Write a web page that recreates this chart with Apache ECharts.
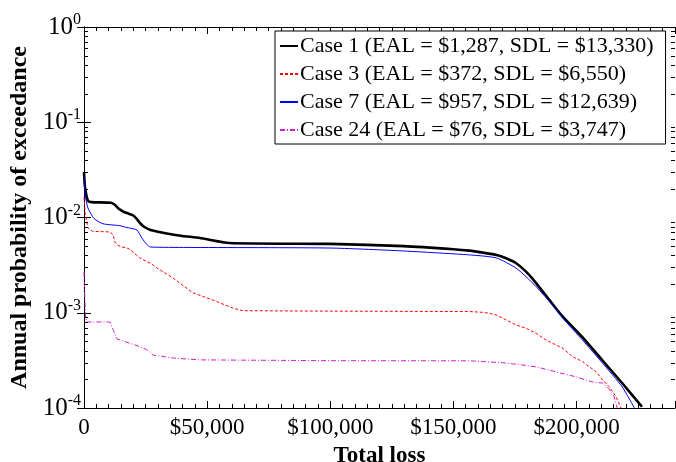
<!DOCTYPE html>
<html>
<head>
<meta charset="utf-8">
<script src="https://cdn.jsdelivr.net/npm/echarts@6/dist/echarts.min.js"></script>
<style>html,body{margin:0;padding:0;background:#fff}#c{width:676px;height:462px}</style>
</head>
<body>
<div id="c"></div>
<script>
// ---------- data ----------
const seriesNames = [
  'Case 1 (EAL = $1,287, SDL = $13,330)',
  'Case 3 (EAL = $372, SDL = $6,550)',
  'Case 7 (EAL = $957, SDL = $12,639)',
  'Case 24 (EAL = $76, SDL = $3,747)'
];
const case1Loss = [0, 400, 1600, 3000, 11000, 12500, 14000, 16000, 18000, 20000, 21500, 23000, 24700, 27000, 30000, 33600, 40000, 47000, 59000, 100000, 129700, 150000, 156500, 161900, 167500, 171400, 175500, 179500, 183600, 189000, 194400, 202300, 210400, 218500, 226600];
const case1Prob = [0.0300, 0.0210, 0.0150, 0.0145, 0.0143, 0.0136, 0.0124, 0.0115, 0.0110, 0.0105, 0.0096, 0.0086, 0.0079, 0.0074, 0.0071, 0.0068, 0.0064, 0.0061, 0.0054, 0.00528, 0.0050, 0.00465, 0.00449, 0.00428, 0.00404, 0.00373, 0.00331, 0.00270, 0.00205, 0.00136, 0.00091, 0.000557, 0.000319, 0.000183, 0.000103];

const case3Loss = [0, 500, 1600, 3500, 10500, 11800, 12600, 13800, 15400, 17400, 18700, 22700, 28000, 29600, 36100, 44200, 52300, 60400, 64500, 100000, 156500, 161900, 164600, 167400, 171400, 175500, 179500, 183600, 187600, 191700, 194400, 198400, 202500, 205200, 207900, 210600, 213300, 216000, 218100];
const case3Prob = [0.0164, 0.0110, 0.0078, 0.00715, 0.00706, 0.0066, 0.0055, 0.0051, 0.0049, 0.0048, 0.0046, 0.00376, 0.00318, 0.00296, 0.00232, 0.00162, 0.00136, 0.00112, 0.00105, 0.00104, 0.00103, 0.00101, 0.000988, 0.000948, 0.000840, 0.000744, 0.000687, 0.000609, 0.000518, 0.000459, 0.000424, 0.000346, 0.000306, 0.000271, 0.000241, 0.000197, 0.000167, 0.000132, 0.000100];

const case7Loss = [0, 500, 1600, 4000, 7700, 14600, 17000, 19000, 21500, 23500, 25500, 27000, 41800, 100000, 127000, 156500, 167500, 175500, 179500, 183600, 189000, 194400, 202400, 210500, 218600, 223500];
const case7Prob = [0.0260, 0.0170, 0.0126, 0.0098, 0.0086, 0.0082, 0.0079, 0.0077, 0.0074, 0.0061, 0.0052, 0.0049, 0.00485, 0.00478, 0.00449, 0.00405, 0.00376, 0.00294, 0.00239, 0.00188, 0.00131, 0.00088, 0.000518, 0.000297, 0.000166, 0.000100];

const case24Loss = [0, 300, 600, 1000, 10500, 12000, 13400, 17400, 22700, 25500, 28000, 36100, 47000, 100000, 156500, 169900, 178000, 183700, 191800, 199900, 206400, 210500, 213300, 215300, 216500];
const case24Prob = [0.00267, 0.0015, 0.00095, 0.00080, 0.00080, 0.00065, 0.00053, 0.00049, 0.00044, 0.00041, 0.00036, 0.000335, 0.00032, 0.000314, 0.000313, 0.000299, 0.000283, 0.000270, 0.000239, 0.000212, 0.000188, 0.000183, 0.000158, 0.000131, 0.000100];

const xTickLabels = [0, 50000, 100000, 150000, 200000];
const yDecades = [1e-4, 1e-3, 1e-2, 1e-1, 1];
const yMinorMult = [2, 3, 4, 5, 6, 7, 8, 9];

// ---------- build ----------
const FONT = "'Liberation Serif','Times New Roman',serif";
const pair = (xs, ys) => xs.map((x, i) => [x, ys[i]]);
const yMinor = [];
yDecades.slice(0, -1).forEach(d => yMinorMult.forEach(m => yMinor.push([0, d * m])));

const XMIN = 0, XMAX = 240000;
const baseX = {
  type: 'value', min: XMIN, max: XMAX, gridIndex: 0,
  splitLine: { show: false },
  axisLine: { show: true, onZero: false, lineStyle: { color: '#000', width: 1 } },
  axisLabel: { show: false }
};
const xAxes = [
  Object.assign({}, baseX, {
    position: 'bottom', interval: 5000,
    axisTick: { show: true, inside: true, length: 4, lineStyle: { color: '#000' } },
    axisLabel: {
      show: true, fontFamily: FONT, fontSize: 23, color: '#000', margin: 8,
      formatter: v => xTickLabels.indexOf(v) < 0 ? '' : (v === 0 ? '0' : '$' + v.toLocaleString('en-US'))
    },
    name: 'Total loss', nameLocation: 'middle', nameGap: 37,
    nameTextStyle: { fontFamily: FONT, fontSize: 23, fontWeight: 'bold', color: '#000' }
  }),
  Object.assign({}, baseX, {
    position: 'bottom', interval: 50000, axisLine: { show: false },
    axisTick: { show: true, inside: true, length: 7, lineStyle: { color: '#000' } }
  }),
  Object.assign({}, baseX, {
    position: 'top', interval: 5000,
    axisTick: { show: true, inside: true, length: 4, lineStyle: { color: '#000' } }
  }),
  Object.assign({}, baseX, {
    position: 'top', interval: 50000, axisLine: { show: false },
    axisTick: { show: true, inside: true, length: 7, lineStyle: { color: '#000' } }
  })
];

const baseY = {
  type: 'log', logBase: 10, min: 1e-4, max: 1, gridIndex: 0,
  splitLine: { show: false },
  axisLine: { show: true, lineStyle: { color: '#000', width: 1 } },
  axisTick: { show: true, inside: true, length: 7, lineStyle: { color: '#000' } }
};
const yAxes = [
  Object.assign({}, baseY, {
    position: 'left',
    axisLabel: {
      show: true, margin: 3, color: '#000',
      formatter: v => '{b|10}{e|' + Math.round(Math.log10(v)) + '}',
      rich: {
        b: { fontFamily: FONT, fontSize: 25, color: '#000' },
        e: { fontFamily: FONT, fontSize: 16, color: '#000', padding: [0, 0, 14, 0] }
      }
    },
    name: 'Annual probability of exceedance', nameLocation: 'middle', nameGap: 50,
    nameTextStyle: { fontFamily: FONT, fontSize: 24, fontWeight: 'bold', color: '#000' }
  }),
  Object.assign({}, baseY, { position: 'right', axisLabel: { show: false } })
];

const lineSeries = (name, data, color, width, type, smooth) => ({
  name, type: 'line', data, xAxisIndex: 0, yAxisIndex: 0,
  symbol: 'none', showSymbol: false, smooth: smooth, silent: true,
  lineStyle: { color, width, type }, itemStyle: { color },
  clip: true, z: 3
});

const option = {
  animation: false,
  backgroundColor: '#fff',
  grid: { left: 84, right: 1, top: 27, bottom: 54, containLabel: false, outerBoundsMode: 'none' },
  xAxis: xAxes,
  yAxis: yAxes,
  legend: {
    data: seriesNames,
    orient: 'vertical', left: 275, top: 31,
    padding: [4, 12, 3, 4], itemGap: 6,
    itemWidth: 18, itemHeight: 2,
    itemStyle: { opacity: 0 },
    borderColor: '#000', borderWidth: 1, backgroundColor: '#fff',
    textStyle: { fontFamily: FONT, fontSize: 22, color: '#000', padding: [0, 0, 0, -3] },
    selectedMode: false, z: 10
  },
  series: [
    lineSeries(seriesNames[0], pair(case1Loss, case1Prob), '#000000', 2.6, 'solid', 0.2),
    lineSeries(seriesNames[1], pair(case3Loss, case3Prob), '#ff0000', 1, [3, 2], false),
    lineSeries(seriesNames[2], pair(case7Loss, case7Prob), '#0000ff', 1, 'solid', 0.2),
    lineSeries(seriesNames[3], pair(case24Loss, case24Prob), '#cc22cc', 1, [5, 2, 1, 2], false),
    {
      type: 'custom', name: 'minorTicks', xAxisIndex: 0, yAxisIndex: 0, silent: true,
      data: yMinor, encode: { x: 0, y: 1 }, clip: false, z: 5,
      renderItem: (params, api) => {
        const p = api.coord([XMIN, api.value(1)]);
        const cs = params.coordSys;
        const y = Math.round(p[1]) + 0.5;
        return { type: 'group', children: [
          { type: 'line', shape: { x1: cs.x, y1: y, x2: cs.x + 4, y2: y }, style: { stroke: '#000', lineWidth: 1 } },
          { type: 'line', shape: { x1: cs.x + cs.width, y1: y, x2: cs.x + cs.width - 4, y2: y }, style: { stroke: '#000', lineWidth: 1 } }
        ] };
      }
    }
  ]
};
const chart = echarts.init(document.getElementById('c'), null, { renderer: 'canvas' });
chart.setOption(option);
</script>
</body>
</html>
